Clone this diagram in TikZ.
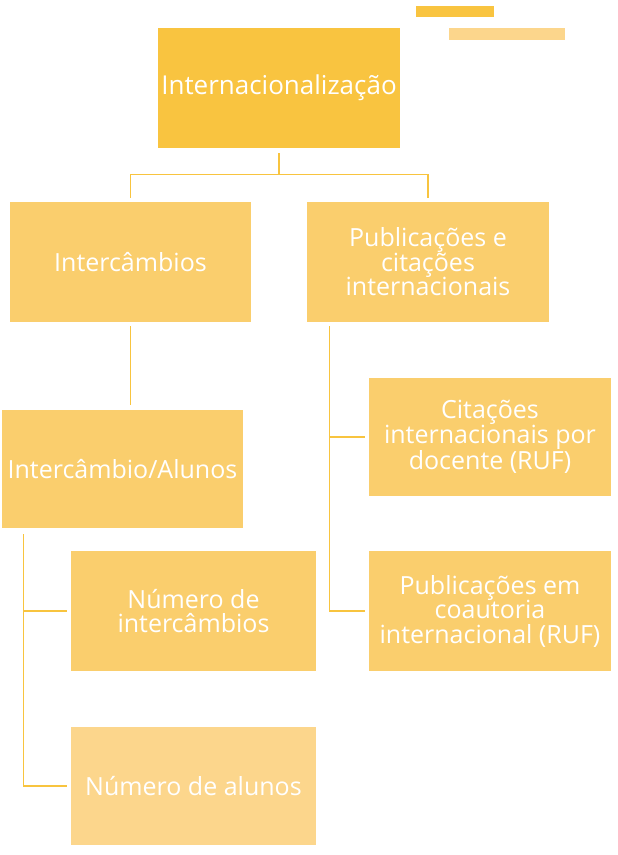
\documentclass[tikz,border=0pt]{standalone}
\usepackage{fontspec}
\setmainfont{Open Sans}
\usepackage{xcolor}
\definecolor{gold}{RGB}{249,196,64}
\definecolor{goldmid}{RGB}{250,206,109}
\definecolor{goldpale}{RGB}{252,214,140}
\definecolor{linegold}{RGB}{248,196,63}

\begin{document}
\begin{tikzpicture}[x=1pt, y=-1pt, inner sep=0pt]
		\tikzstyle{every node}=[align=center, text=white, font=\fontsize{25}{24.5}\selectfont]
		\tikzstyle{box}=[fill=goldmid, minimum width=242pt, minimum height=120pt]
		\tikzstyle{link}=[draw=linegold, line width=1.3pt]
			\useasboundingbox (0,0) rectangle (618,855);
			\fill[gold] (416,6) rectangle (494,17);
			\fill[goldpale] (449,28) rectangle (565,40);

			\node[box, fill=gold, font=\fontsize{26}{26}\selectfont] (intl) at (279, 88) {Internacionaliza\c{c}\~ao};
			\node[box, minimum width=241pt] (intc) at (130.5, 262) {Interc\^ambios};
			\node[box] (pub) at (428, 262) {Publica\c{c}\~oes e\\cita\c{c}\~oes\\internacionais};
			\node[box, minimum height=118pt, minimum width=241pt] (alunos) at (122.5, 469) {Interc\^ambio/Alunos};
			\node[box, minimum height=118pt] (cit) at (490, 437) {Cita\c{c}\~oes\\internacionais por\\docente (RUF)};
			\node[box, minimum width=245pt] (nint) at (193.5, 611) {N\'umero de\\interc\^ambios};
			\node[box] (coaut) at (490, 611) {Publica\c{c}\~oes em\\coautoria\\internacional (RUF)};
			\node[box, fill=goldpale, minimum width=245pt, minimum height=118pt] (nalu) at (193.5, 786) {N\'umero de alunos};

			\draw[link] ([yshift=-5pt]intl.south) -- ++(0,21) coordinate (fork);
			\draw[link] ([yshift=4pt]intc.north) |- (fork) -| ([yshift=4pt]pub.north);
			\draw[link, shorten <=4pt, shorten >=5pt] (intc.south) -- (intc.south |- alunos.north);
			\draw[link] ([xshift=23pt, yshift=-4pt]pub.south west) |- ([xshift=-4pt]cit.west);
			\draw[link] ([xshift=23pt, yshift=-4pt]pub.south west) |- ([xshift=-4pt]coaut.west);
			\draw[link] ([xshift=22pt, yshift=-6pt]alunos.south west) |- ([xshift=-4pt]nint.west);
			\draw[link] ([xshift=22pt, yshift=-6pt]alunos.south west) |- ([xshift=-4pt]nalu.west);
		\end{tikzpicture}
\end{document}
